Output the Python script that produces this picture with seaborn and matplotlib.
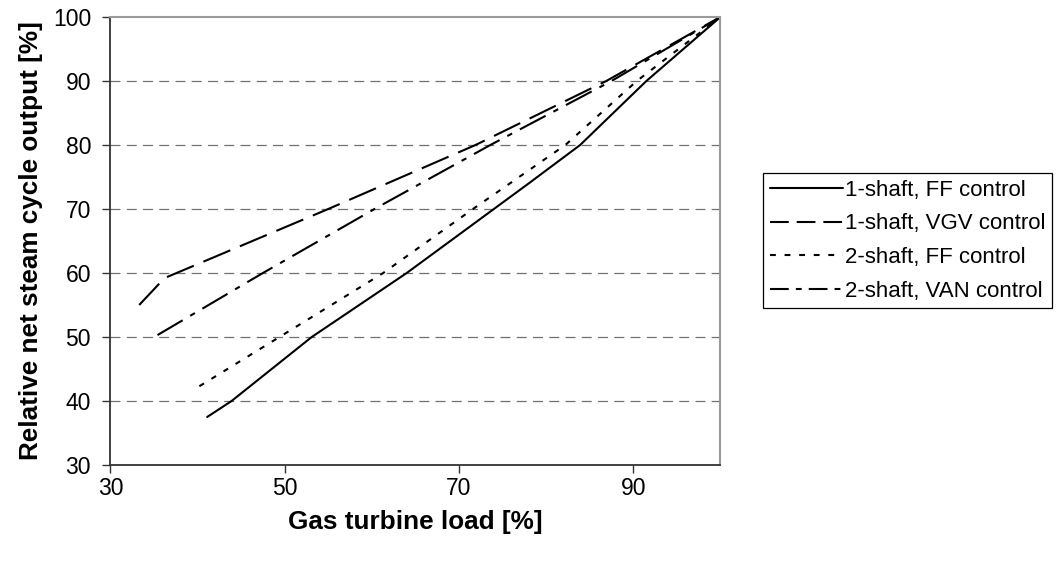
import matplotlib
matplotlib.use("Agg")
import matplotlib.pyplot as plt
import seaborn as sns
import pandas as pd

# ---- data ----
s1ff_x = [41.1, 43.9, 53.1, 64.0, 74.0, 78.0, 83.9, 91.5, 100.0]
s1ff_y = [37.5, 40.0, 50.0, 60.0, 70.0, 74.0, 80.0, 90.0, 100.0]

s1vgv_x = [33.3, 36.2, 55.0, 71.9, 86.9, 100.0]
s1vgv_y = [55.0, 59.2, 70.0, 80.0, 90.0, 100.0]

s2ff_x = [40.2, 49.4, 61.3, 71.6, 82.2, 90.4, 100.0]
s2ff_y = [42.3, 50.0, 60.0, 70.0, 80.0, 90.0, 100.0]

s2van_x = [35.4, 47.5, 60.3, 73.6, 87.5, 100.0]
s2van_y = [50.3, 60.0, 70.0, 80.0, 90.0, 100.0]

series_names = ["1-shaft, FF control", "1-shaft, VGV control",
                "2-shaft, FF control", "2-shaft, VAN control"]

x_ticks = [30, 50, 70, 90]
y_ticks = [30, 40, 50, 60, 70, 80, 90, 100]

frames = []
for name, xs, ys in zip(series_names,
                        [s1ff_x, s1vgv_x, s2ff_x, s2van_x],
                        [s1ff_y, s1vgv_y, s2ff_y, s2van_y]):
    frames.append(pd.DataFrame({"load": xs, "output": ys, "series": name}))
df = pd.concat(frames, ignore_index=True)

sns.set_style("white")
plt.rcParams["font.family"] = ["Liberation Sans", "DejaVu Sans"]
plt.rcParams["text.color"] = "black"
plt.rcParams["axes.labelcolor"] = "black"
plt.rcParams["xtick.color"] = "black"
plt.rcParams["ytick.color"] = "black"

fig = plt.figure(figsize=(10.58, 5.65), dpi=100)
ax = fig.add_axes([0.1044, 0.177, 0.681 - 0.1044, 0.970 - 0.177])

lw = 1.5
dash_map = {
    "1-shaft, FF control": "",
    "1-shaft, VGV control": (14.0, 5.0),
    "2-shaft, FF control": (2.6, 4.2),
    "2-shaft, VAN control": (14.0, 4.2, 2.6, 4.2),
}
sns.lineplot(data=df, x="load", y="output", style="series",
             style_order=series_names, dashes=dash_map, color="black",
             linewidth=lw, estimator=None, sort=False, legend=False, ax=ax)

ax.set_xlim(30, 100)
ax.set_ylim(30, 100)
ax.set_xticks(x_ticks)
ax.set_yticks(y_ticks)
ax.tick_params(axis="both", labelsize=16.5, direction="out", length=6,
               width=1, color="#333333", labelcolor="black")
ax.tick_params(axis="y", pad=8)
ax.tick_params(axis="x", pad=3)
ax.tick_params(axis="both", which="both", bottom=True, left=True)

for yv in y_ticks[1:-1]:
    ax.axhline(yv, color="#707070", lw=0.9, ls=(0, (8, 5)), zorder=0)

for side in ["left", "bottom"]:
    ax.spines[side].set_color("#333333")
    ax.spines[side].set_linewidth(1.3)
for side in ["top", "right"]:
    ax.spines[side].set_color("#9a9a9a")
    ax.spines[side].set_linewidth(1.5)
    ax.spines[side].set_visible(True)

ax.set_xlabel("Gas turbine load [%]", fontsize=18.8, fontweight="bold",
              labelpad=7, color="black")
ax.set_ylabel("Relative net steam cycle output [%]", fontsize=18.8,
              fontweight="bold", labelpad=7, color="black")

handles = ax.get_lines()[:4]
leg = fig.legend(handles, series_names, loc="upper left",
                 bbox_to_anchor=(763 / 1058, 1 - 173 / 565),
                 fontsize=16, frameon=True, fancybox=False,
                 edgecolor="black", framealpha=1, handlelength=3.3,
                 handletextpad=0.1, labelspacing=0.57, borderpad=0.3,
                 borderaxespad=0)
leg.get_frame().set_linewidth(0.9)
for t in leg.get_texts():
    t.set_color("black")
legend_dashes = [None, (9.0, 3.8), (2.8, 4.2), (9.0, 3.4, 2.8, 3.4)]
for line, d in zip(leg.get_lines(), legend_dashes):
    if d is not None:
        line.set_dashes(d)

fig.savefig("out.png", dpi=100)
